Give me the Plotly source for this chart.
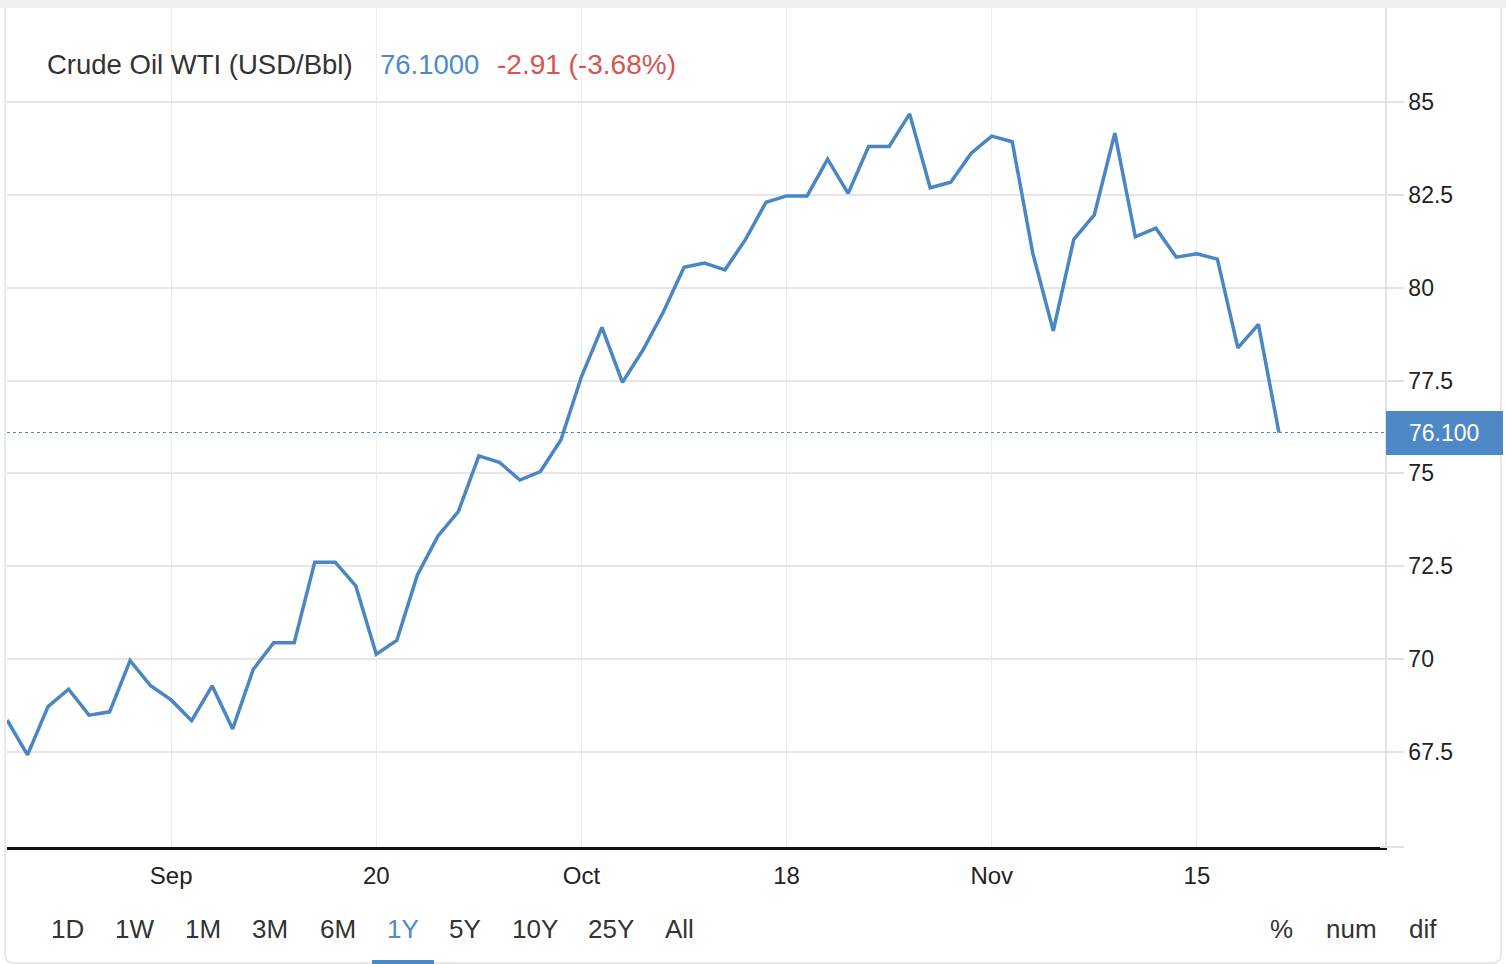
import plotly.graph_objects as go

# ---- data ----
prices = [68.36, 67.42, 68.72, 69.19, 68.49, 68.58, 69.96, 69.28, 68.90, 68.34,
          69.28, 68.12, 69.72, 70.44, 70.44, 72.61, 72.61, 71.97, 70.13, 70.50,
          72.26, 73.31, 73.97, 75.47, 75.30, 74.82, 75.05, 75.90, 77.60, 78.93,
          77.45, 78.32, 79.35, 80.55, 80.66, 80.48, 81.30, 82.30, 82.47, 82.47,
          83.46, 82.54, 83.80, 83.80, 84.68, 82.69, 82.84, 83.62, 84.08, 83.93,
          80.93, 78.84, 81.30, 81.96, 84.16, 81.37, 81.60, 80.82, 80.91, 80.77,
          78.38, 79.01, 76.10]
x_tick_pos = [8, 18, 28, 38, 48, 58]
x_tick_labels = ["Sep", "20", "Oct", "18", "Nov", "15"]
y_tick_vals = [67.5, 70, 72.5, 75, 77.5, 80, 82.5, 85]
y_tick_labels = ["67.5", "70", "72.5", "75", "77.5", "80", "82.5", "85"]
last_price = 76.10
title_text = "Crude Oil WTI (USD/Bbl)"
price_text = "76.1000"
change_text = "-2.91 (-3.68%)"
range_buttons = ["1D", "1W", "1M", "3M", "6M", "1Y", "5Y", "10Y", "25Y", "All"]
range_button_x = [67, 134, 203, 270, 338, 403, 465, 535, 611, 679]
mode_buttons = ["%", "num", "dif"]
mode_button_x = [1281, 1351, 1423]

W, H = 1506, 964
L, R, T, B = 7, 1385, 8, 847
LINE = "#4a86c4"
FONT = "Liberation Sans, Arial, Helvetica, sans-serif"


def px(x):
    return (x - L) / (R - L)


def py(y):
    return (B - y) / (B - T)


x_idx = list(range(len(prices)))

fig = go.Figure()
fig.add_trace(go.Scatter(x=x_idx, y=prices, mode="lines",
                         line=dict(color=LINE, width=3.5), hoverinfo="skip"))

shapes = []
# top grey strip
shapes.append(dict(type="rect", xref="paper", yref="paper", x0=px(0), x1=px(W),
                   y0=py(8), y1=py(0), fillcolor="#efefef", line=dict(width=0), layer="below"))
# rounded border
r = 9
path = (f"M {px(5)},{py(8)} L {px(5)},{py(963 - r)} Q {px(5)},{py(963)} {px(5 + r)},{py(963)} "
        f"L {px(1501 - r)},{py(963)} Q {px(1501)},{py(963)} {px(1501)},{py(963 - r)} L {px(1501)},{py(8)}")
shapes.append(dict(type="path", xref="paper", yref="paper", path=path,
                   line=dict(color="#e2e2e2", width=1.5), layer="below"))
# dotted last price line
shapes.append(dict(type="line", xref="paper", yref="y", x0=0, x1=1, y0=last_price, y1=last_price,
                   line=dict(color=LINE, width=1.2, dash="dot")))
# bottom axis extension
shapes.append(dict(type="line", xref="paper", yref="paper", x0=px(1380), x1=px(1404),
                   y0=py(847), y1=py(847), line=dict(color="#e2e2e2", width=2)))
# last price box
shapes.append(dict(type="rect", xref="paper", yref="paper", x0=px(1386), x1=px(1503),
                   y0=py(455), y1=py(411), fillcolor="#4f88c6", line=dict(width=0)))
# selected button underline
shapes.append(dict(type="rect", xref="paper", yref="paper", x0=px(372), x1=px(434),
                   y0=py(964), y1=py(960), fillcolor="#4a8bcb", line=dict(width=0)))

annotations = []
annotations.append(dict(xref="paper", yref="paper", x=px(45), y=py(65), xanchor="left", yanchor="middle",
                        text=title_text, showarrow=False, font=dict(family=FONT, size=27.5, color="#333333")))
annotations.append(dict(xref="paper", yref="paper", x=px(378), y=py(65), xanchor="left", yanchor="middle",
                        text=price_text, showarrow=False, font=dict(family=FONT, size=27.5, color="#4a8bcb")))
annotations.append(dict(xref="paper", yref="paper", x=px(495), y=py(65), xanchor="left", yanchor="middle",
                        text=change_text, showarrow=False, font=dict(family=FONT, size=28, color="#d9534f")))
annotations.append(dict(xref="paper", yref="paper", x=px(1444), y=py(433), xanchor="center", yanchor="middle",
                        text=f"{last_price:.3f}", showarrow=False, font=dict(family=FONT, size=23, color="white")))
for t, xx in zip(range_buttons, range_button_x):
    annotations.append(dict(xref="paper", yref="paper", x=px(xx), y=py(929), xanchor="center", yanchor="middle",
                            text=t, showarrow=False,
                            font=dict(family=FONT, size=26, color="#4a8bcb" if t == "1Y" else "#333333")))
for t, xx in zip(mode_buttons, mode_button_x):
    annotations.append(dict(xref="paper", yref="paper", x=px(xx), y=py(929), xanchor="center", yanchor="middle",
                            text=t, showarrow=False, font=dict(family=FONT, size=26, color="#333333")))

fig.update_layout(
    width=W, height=H,
    margin=dict(l=L, r=W - R, t=T, b=H - B, pad=0),
    paper_bgcolor="white", plot_bgcolor="white",
    showlegend=False,
    shapes=shapes, annotations=annotations,
    xaxis=dict(range=[0, 67.17], tickmode="array", tickvals=x_tick_pos, ticktext=x_tick_labels,
               showgrid=True, gridcolor="#ececec", gridwidth=1, zeroline=False,
               showline=True, linecolor="#111111", linewidth=2.5, ticks="",
               ticklabelstandoff=5,
               tickfont=dict(family=FONT, size=24, color="#222222"), fixedrange=True),
    yaxis=dict(range=[64.94, 87.53], side="right", tickmode="array", tickvals=y_tick_vals,
               ticktext=y_tick_labels, showgrid=True, gridcolor="#e6e6e6", gridwidth=1.5,
               zeroline=False, showline=True, linecolor="#e2e2e2", linewidth=1.5,
               ticks="outside", ticklen=17, tickcolor="#e2e2e2", tickwidth=1.5,
               tickfont=dict(family=FONT, size=23, color="#222222"), fixedrange=True),
)

fig.write_html("out.html", config={"displayModeBar": False})
